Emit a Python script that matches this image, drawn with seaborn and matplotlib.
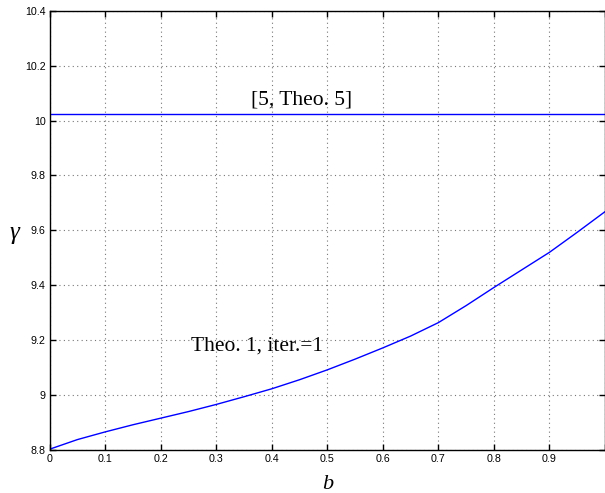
import matplotlib
matplotlib.use("Agg")
import matplotlib.pyplot as plt
import seaborn as sns
import pandas as pd
from matplotlib.ticker import FuncFormatter

b_vals = [0.0, 0.05, 0.1, 0.15, 0.2, 0.25, 0.3, 0.35, 0.4, 0.45, 0.5, 0.55,
          0.6, 0.65, 0.7, 0.75, 0.8, 0.85, 0.9, 0.95, 1.0]
gamma_iter1 = [8.803, 8.838, 8.866, 8.892, 8.916, 8.940, 8.966, 8.994, 9.023, 9.056, 9.092, 9.131,
               9.172, 9.215, 9.264, 9.326, 9.392, 9.456, 9.520, 9.593, 9.668]
ref_b = [0.0, 1.0]
ref_gamma = [10.022, 10.022]
x_ticks = [0.0, 0.1, 0.2, 0.3, 0.4, 0.5, 0.6, 0.7, 0.8, 0.9, 1.0]
x_tick_labels = ["0", "0.1", "0.2", "0.3", "0.4", "0.5", "0.6", "0.7", "0.8", "0.9", ""]
y_ticks = [8.8, 9.0, 9.2, 9.4, 9.6, 9.8, 10.0, 10.2, 10.4]
label_ref = "[5, Theo. 5]"
label_iter = "Theo. 1, iter.=1"

sns.set_style("white")
plt.rcParams["font.family"] = ["Liberation Sans", "DejaVu Sans"]
plt.rcParams["text.color"] = "black"
plt.rcParams["axes.labelcolor"] = "black"

fig = plt.figure(figsize=(6.05, 4.93), dpi=100)
ax = fig.add_axes([0.0821, 0.0872, 0.9179, 0.8911])

df1 = pd.DataFrame({"b": b_vals, "gamma": gamma_iter1})
df2 = pd.DataFrame({"b": ref_b, "gamma": ref_gamma})
sns.lineplot(data=df1, x="b", y="gamma", ax=ax, color="#0000ff", linewidth=1.0)
sns.lineplot(data=df2, x="b", y="gamma", ax=ax, color="#0000ff", linewidth=1.0)

ax.set_xlim(0, 1)
ax.set_ylim(8.8, 10.4)
ax.set_xticks(x_ticks)
ax.set_xticklabels(x_tick_labels)
ax.set_yticks(y_ticks)
ax.yaxis.set_major_formatter(FuncFormatter(lambda v, p: f"{v:g}"))
ax.tick_params(direction="in", length=4, width=1, labelsize=7.7, top=True, right=True,
               bottom=True, left=True, colors="black", labelcolor="black", pad=3)
ax.grid(True, linestyle=(0, (1, 3)), color="#777777", linewidth=0.8)
for s in ax.spines.values():
    s.set_color("black")
    s.set_linewidth(1.0)

ax.set_xlabel("b", family="Liberation Serif", style="italic", fontsize=16)
ax.xaxis.set_label_coords(0.5005, -0.078)
ax.xaxis.label.set_va("center")
ax.set_ylabel("γ", family=["Liberation Serif", "DejaVu Serif"], style="italic", fontsize=18,
              rotation=0)
ax.yaxis.set_label_coords(-0.064, 0.494)
ax.yaxis.label.set_va("center")
ax.yaxis.label.set_ha("center")

ax.text(0.454, 10.075, label_ref, family="Liberation Serif", fontsize=15.5, ha="center", va="center",
        color="black")
ax.text(0.373, 9.18, label_iter, family="Liberation Serif", fontsize=15.5, ha="center", va="center",
        color="black")

fig.savefig("out.png", dpi=100)
